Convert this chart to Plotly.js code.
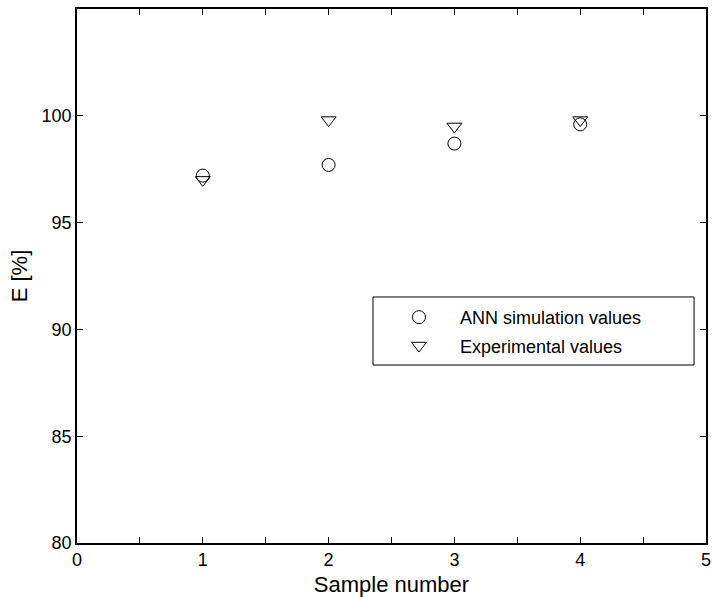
<!DOCTYPE html>
<html><head><meta charset="utf-8">
<script src="https://cdn.plot.ly/plotly-3.0.1.min.js"></script>
<style>body{margin:0;background:#fff}#plot{width:712px;height:597px}</style>
</head><body><div id="plot"></div>
<script>
const samples = [1, 2, 3, 4];
const annValues = [97.2, 97.7, 98.7, 99.6];
const expValues = [97.0, 99.8, 99.5, 99.8];
const xTickVals = [0, 0.5, 1, 1.5, 2, 2.5, 3, 3.5, 4, 4.5, 5];
const xTickText = ['0', '', '1', '', '2', '', '3', '', '4', '', '5'];
const yTickVals = [80, 85, 90, 95, 100];

const FONT = 'Liberation Sans, Arial, sans-serif';
const traces = [
  {x: samples, y: annValues, mode: 'markers', type: 'scatter', name: 'ANN simulation values', legendgroup: 'a',
   marker: {symbol: 'circle-open', size: 13, color: '#000', line: {width: 1, color: '#000'}}},
  {x: samples, y: expValues, mode: 'markers', type: 'scatter', name: 'Experimental values', legendgroup: 'b',
   marker: {symbol: 'triangle-down-open', size: 13, color: '#000', line: {width: 1, color: '#000'}}}
];
const axisCommon = {showgrid: false, zeroline: false, showline: true, linecolor: '#000', linewidth: 1.5,
  mirror: 'ticks', ticks: 'inside', ticklen: 6, tickcolor: '#000', tickwidth: 1, ticklabeloverflow: 'allow',
  tickfont: {family: FONT, size: 18, color: '#000'}};
const layout = {
  width: 712, height: 597,
  margin: {l: 77, r: 6, t: 9, b: 54},
  paper_bgcolor: '#fff', plot_bgcolor: '#fff',
  showlegend: true,
  xaxis: Object.assign({}, axisCommon, {range: [0, 5], tickmode: 'array', tickvals: xTickVals, ticktext: xTickText,
    title: {text: 'Sample number', font: {family: FONT, size: 22, color: '#000'}, standoff: 10}}),
  yaxis: Object.assign({}, axisCommon, {range: [80, 105], tickmode: 'array', tickvals: yTickVals,
    title: {text: 'E [%]', font: {family: FONT, size: 22, color: '#000'}, standoff: 8}}),
  legend: {x: 0.4785, y: 0.457, xanchor: 'left', yanchor: 'top', borderwidth: 0, bgcolor: 'rgba(0,0,0,0)',
    font: {family: FONT, size: 18, color: '#000'}, itemwidth: 72, tracegroupgap: 2},
  shapes: [{type: 'rect', xref: 'paper', yref: 'paper', x0: 0.4706, x1: 0.981, y0: 0.3333, y1: 0.4607,
    line: {color: '#000', width: 1}, fillcolor: '#fff', layer: 'below'}]
};
Plotly.newPlot('plot', traces, layout, {displayModeBar: false});
</script></body></html>
